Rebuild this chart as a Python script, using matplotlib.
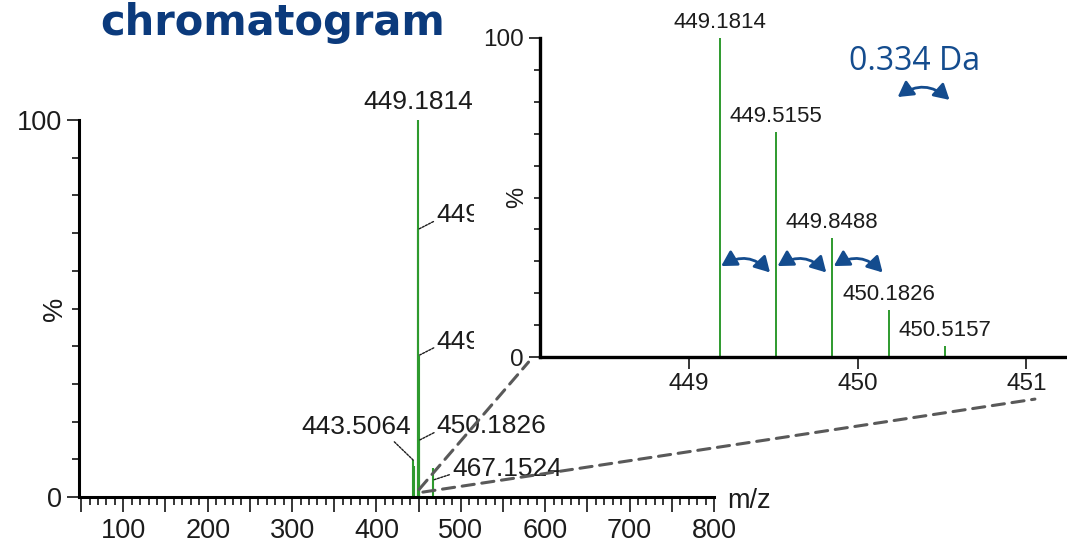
import numpy as np
import matplotlib.pyplot as plt
from matplotlib.patches import Rectangle, FancyArrowPatch, ConnectionPatch
from matplotlib.ticker import FixedLocator, MultipleLocator, FuncFormatter

plt.rcParams['font.family'] = ['Liberation Sans', 'DejaVu Sans']

# full scan (m/z, relative intensity %)
scan_mz = [443.5064, 444.5, 449.1814, 449.5155, 449.8488, 450.1826, 450.5157, 467.1524]
scan_int = [9.8, 8.2, 100, 71, 37.5, 15, 3.5, 7.7]

# isotope cluster of the base peak
iso_mz = [449.1814, 449.5155, 449.8488, 450.1826, 450.5157]
iso_int = [100, 70.5, 37.3, 14.7, 3.4]

spacing_label = '0.334 Da'

W, H = 1067, 549
green = '#2e9a2e'
navy = '#0b3a7c'
arrow_blue = '#144c8e'
ink = '#1c1c1c'

def rect(x0, y0, x1, y1):
    # pixel box (top-left origin) -> figure fraction rect
    return [x0 / W, 1 - y1 / H, (x1 - x0) / W, (y1 - y0) / H]

fig = plt.figure(figsize=(W / 100, H / 100), dpi=100)

# ---- main spectrum ----
ax = fig.add_axes(rect(79, 120, 714, 497))
ax.set_xlim(47.5, 800)
ax.set_ylim(0, 100)
ax.vlines(scan_mz, 0, scan_int, color=green, lw=1.5)

for s in ['top', 'right']:
    ax.spines[s].set_visible(False)
for s in ['left', 'bottom']:
    ax.spines[s].set_linewidth(2.2)

ax.xaxis.set_major_locator(FixedLocator(np.arange(50, 801, 50)))
ax.xaxis.set_major_formatter(FuncFormatter(lambda v, p: '%d' % v if v % 100 == 0 else ''))
ax.xaxis.set_minor_locator(MultipleLocator(10))
ax.yaxis.set_major_locator(FixedLocator([0, 100]))
ax.yaxis.set_minor_locator(MultipleLocator(10))
ax.tick_params(axis='x', which='major', length=10.8, width=1.1, labelsize=19.5, pad=4, labelcolor=ink)
ax.tick_params(axis='x', which='minor', length=5.8, width=1.1)
ax.tick_params(axis='y', which='major', length=8.6, width=1.1, labelsize=19.5, pad=3.6, labelcolor=ink)
ax.tick_params(axis='y', which='minor', length=5, width=1.1)

ax.annotate('m/z', xy=(1, 0), xycoords='axes fraction', xytext=(13, -4),
            textcoords='offset pixels', ha='left', va='center', fontsize=19.5, color=ink)
ax.annotate('%', xy=(0, 50), xycoords=('axes fraction', 'data'), xytext=(-24, 0),
            textcoords='offset pixels', ha='center', va='center', rotation=90,
            fontsize=19.5, color=ink)

lead = dict(arrowstyle='-', ls=(0, (1.5, 1)), lw=1.0, color=ink, shrinkA=0, shrinkB=0)
ax.annotate('%.4f' % scan_mz[2], xy=(scan_mz[2], scan_int[2]), xytext=(0, 6),
            textcoords='offset pixels', ha='center', va='bottom', fontsize=19, color=ink)
for i in [3, 4, 5]:
    ax.annotate('%.4f' % scan_mz[i], xy=(scan_mz[i], scan_int[i]), xytext=(18, 14),
                textcoords='offset pixels', ha='left', va='center', fontsize=19, color=ink,
                arrowprops=dict(lead, relpos=(0, 0.3)), annotation_clip=False)
ax.annotate('%.4f' % scan_mz[0], xy=(scan_mz[0], scan_int[0]), xytext=(-2, 33),
            textcoords='offset pixels', ha='right', va='center', fontsize=19, color=ink,
            arrowprops=dict(lead, relpos=(0.82, 0.0)))
ax.annotate('%.4f' % scan_mz[7], xy=(scan_mz[7], 4.5), xytext=(19, 11),
            textcoords='offset pixels', ha='left', va='center', fontsize=19, color=ink,
            arrowprops=dict(lead, relpos=(0, 0.3)))

# white backing under the zoomed panel
fig.add_artist(Rectangle((474 / W, 1 - 405 / H), 1 - 474 / W, 405 / H,
                         transform=fig.transFigure, facecolor='white',
                         edgecolor='none', zorder=1.5))

# ---- zoom on isotope cluster ----
axin = fig.add_axes(rect(540, 38, 1067, 357))
axin.set_zorder(2)
axin.set_xlim(448.118, 451.24)
axin.set_ylim(0, 100)
axin.vlines(iso_mz, 0, iso_int, color=green, lw=1.4)

for s in ['top', 'right']:
    axin.spines[s].set_visible(False)
for s in ['left', 'bottom']:
    axin.spines[s].set_linewidth(2.4)

axin.xaxis.set_major_locator(FixedLocator([449, 450, 451]))
axin.yaxis.set_major_locator(FixedLocator([0, 100]))
axin.yaxis.set_minor_locator(MultipleLocator(10))
axin.tick_params(axis='x', which='major', length=8.6, width=1.1, labelsize=17.5, pad=3, labelcolor=ink)
axin.tick_params(axis='y', which='major', length=8, width=1.1, labelsize=17.5, pad=3.5, labelcolor=ink)
axin.tick_params(axis='y', which='minor', length=4.3, width=1.1)

axin.annotate('%', xy=(0, 50), xycoords=('axes fraction', 'data'), xytext=(-23, 0),
              textcoords='offset pixels', ha='center', va='center', rotation=90,
              fontsize=17, color=ink)

for m, v in zip(iso_mz, iso_int):
    axin.annotate('%.4f' % m, xy=(m, v), xytext=(0, 5), textcoords='offset pixels',
                  ha='center', va='bottom', fontsize=16, color=ink, annotation_clip=False)

# spacing arrows between the first four isotopes
arc_style = '<|-|>,head_length=0.7,head_width=0.4'
arc_kw = dict(connectionstyle='arc3,rad=-0.4', arrowstyle=arc_style, mutation_scale=13,
              color=arrow_blue, lw=2.0, shrinkA=0, shrinkB=0)
for a, b in zip(iso_mz[:3], iso_mz[1:4]):
    axin.add_patch(FancyArrowPatch((a + 0.01, 28.5), (b - 0.035, 26.5), **arc_kw))

axin.text(450.337, 92.5, spacing_label, ha='center', va='center', fontsize=23,
          family='Open Sans', color=arrow_blue, clip_on=False)
axin.add_patch(FancyArrowPatch((450.237, 81.5), (450.544, 80.6), **arc_kw))

# dashed guides from the full scan into the zoom
for pa, pb in [((450.5, 2.0), (448.05, -1.6)), ((455.0, 1.3), (451.05, -13.2))]:
    con = ConnectionPatch(xyA=pa, coordsA=ax.transData, xyB=pb, coordsB=axin.transData,
                          color='#595959', lw=2.2, linestyle=(0, (4, 2.5)), zorder=3)
    fig.add_artist(con)

fig.text(273 / W, 1 - 35 / H, 'chromatogram', ha='center', va='baseline',
         fontsize=30, fontweight='bold', family='DejaVu Sans', color=navy)

fig.savefig('out.png', dpi=100)
